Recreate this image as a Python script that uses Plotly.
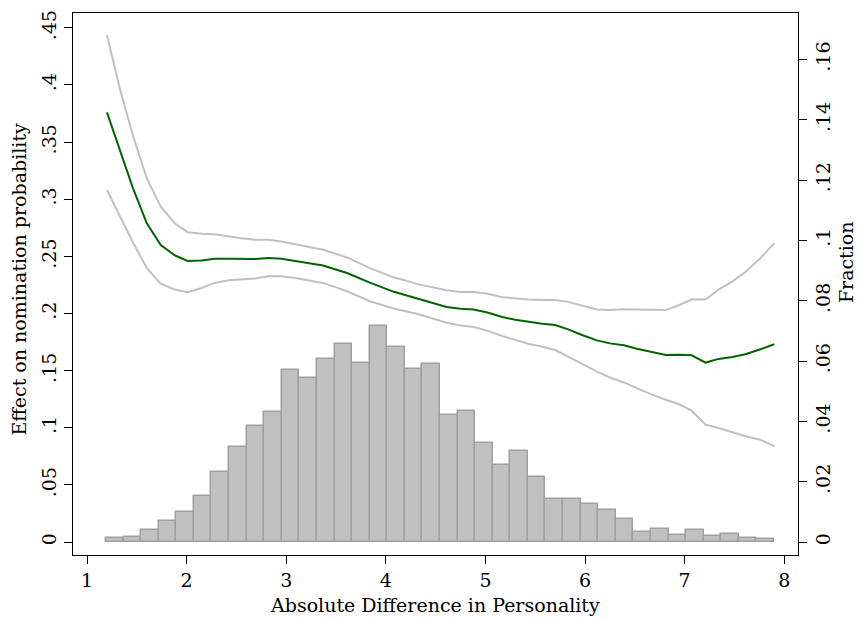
import plotly.graph_objects as go

# ---- data ----
x_pts = [1.20, 1.33, 1.46, 1.60, 1.74, 1.88, 2.01, 2.15, 2.28, 2.42, 2.55, 2.69, 2.82, 2.95, 3.09,
         3.37, 3.61, 3.84, 4.08, 4.34, 4.61, 4.75, 4.88, 5.01, 5.17, 5.30, 5.43, 5.57, 5.70, 5.83,
         5.97, 6.12, 6.25, 6.39, 6.52, 6.66, 6.81, 6.94, 7.07, 7.21, 7.34, 7.48, 7.61, 7.76, 7.90]

effect = [0.376, 0.342, 0.310, 0.279, 0.260, 0.251, 0.246, 0.2465, 0.248, 0.248, 0.248, 0.2477, 0.2485, 0.248, 0.246,
          0.242, 0.2355, 0.227, 0.219, 0.2123, 0.2058, 0.2041, 0.2036, 0.2012, 0.1969, 0.1945, 0.1925, 0.1910, 0.1899, 0.1861,
          0.1812, 0.1765, 0.1739, 0.1722, 0.1692, 0.1664, 0.1638, 0.1640, 0.1635, 0.1571, 0.1603, 0.1620, 0.1644, 0.1687, 0.1731]

upper = [0.4436, 0.3966, 0.3560, 0.3182, 0.2935, 0.2790, 0.2712, 0.2698, 0.2694, 0.2674, 0.2659, 0.2645, 0.2645, 0.2631, 0.2607,
         0.2558, 0.2491, 0.2398, 0.2317, 0.2253, 0.2204, 0.2189, 0.2189, 0.2175, 0.2143, 0.2131, 0.2123, 0.2119, 0.2119, 0.2102,
         0.2073, 0.2036, 0.2032, 0.2038, 0.2036, 0.2032, 0.2030, 0.2073, 0.2123, 0.2123, 0.2210, 0.2282, 0.2363, 0.2485, 0.2616]

lower = [0.3081, 0.2848, 0.2625, 0.2398, 0.2262, 0.2210, 0.2186, 0.2224, 0.2268, 0.2291, 0.2297, 0.2306, 0.2326, 0.2326, 0.2311,
         0.2268, 0.2195, 0.2108, 0.2044, 0.1992, 0.1919, 0.1896, 0.1882, 0.1853, 0.1803, 0.1768, 0.1736, 0.1710, 0.1681, 0.1623,
         0.1557, 0.1492, 0.1440, 0.1397, 0.1348, 0.1295, 0.1246, 0.1208, 0.1150, 0.1028, 0.0999, 0.0961, 0.0926, 0.0895, 0.0839]

hist_start = 1.19
hist_width = 0.1765
hist_frac = [0.0012, 0.0016, 0.0041, 0.0070, 0.0101, 0.0153, 0.0233, 0.0314, 0.0386, 0.0432,
             0.0569, 0.0544, 0.0607, 0.0657, 0.0593, 0.0716, 0.0647, 0.0574, 0.0590, 0.0421,
             0.0433, 0.0330, 0.0255, 0.0301, 0.0217, 0.0144, 0.0144, 0.0125, 0.0106, 0.0075,
             0.0034, 0.0042, 0.0024, 0.0041, 0.0019, 0.0027, 0.0012, 0.0009]

x_ticks = [1, 2, 3, 4, 5, 6, 7, 8]
left_ticks = [0, 0.05, 0.1, 0.15, 0.2, 0.25, 0.3, 0.35, 0.4, 0.45]
left_labels = ["0", ".05", ".1", ".15", ".2", ".25", ".3", ".35", ".4", ".45"]
right_ticks = [0, 0.02, 0.04, 0.06, 0.08, 0.1, 0.12, 0.14, 0.16]
right_labels = ["0", ".02", ".04", ".06", ".08", ".1", ".12", ".14", ".16"]

bin_centers = [hist_start + hist_width * (i + 0.5) for i in range(len(hist_frac))]

FONT = "DejaVu Serif"
FS = 19

fig = go.Figure()
fig.add_trace(go.Bar(x=bin_centers, y=hist_frac, width=hist_width, yaxis="y",
                     marker=dict(color="#c0c0c0", line=dict(color="#a0a0a0", width=1.5)),
                     showlegend=False))
fig.add_trace(go.Scatter(x=x_pts, y=upper, yaxis="y2", mode="lines",
                         line=dict(color="#c0c0c0", width=2), showlegend=False))
fig.add_trace(go.Scatter(x=x_pts, y=lower, yaxis="y2", mode="lines",
                         line=dict(color="#c0c0c0", width=2), showlegend=False))
fig.add_trace(go.Scatter(x=x_pts, y=effect, yaxis="y2", mode="lines",
                         line=dict(color="#006400", width=2), showlegend=False))

axis_common = dict(showgrid=False, zeroline=False, showline=True, linecolor="black", linewidth=1,
                   ticks="outside", ticklen=8, tickcolor="black", tickwidth=1,
                   tickfont=dict(family=FONT, size=FS, color="black"))

fig.update_layout(
    width=859, height=619,
    margin=dict(l=73, r=61, t=10, b=64),
    paper_bgcolor="white", plot_bgcolor="white",
    bargap=0,
    xaxis=dict(range=[0.859, 8.138], tickvals=x_ticks, ticktext=[str(t) for t in x_ticks],
               mirror=True, **axis_common),
    yaxis=dict(range=[-0.0043, 0.1754], side="right", tickvals=right_ticks, ticktext=right_labels,
               tickangle=-90, **axis_common),
    yaxis2=dict(range=[-0.0113, 0.463], side="left", overlaying="y", tickvals=left_ticks,
                ticktext=left_labels, tickangle=-90, **axis_common),
    annotations=[
        dict(text="Absolute Difference in Personality", xref="paper", yref="paper", x=0.4995, y=-0.0917,
             showarrow=False, xanchor="center", yanchor="middle", font=dict(family=FONT, size=FS, color="black")),
        dict(text="Effect on nomination probability", xref="paper", yref="paper", x=-0.0745, y=0.510,
             showarrow=False, textangle=-90, xanchor="center", yanchor="middle",
             font=dict(family=FONT, size=FS, color="black")),
        dict(text="Fraction", xref="paper", yref="paper", x=1.0653, y=0.541,
             showarrow=False, textangle=-90, xanchor="center", yanchor="middle",
             font=dict(family=FONT, size=FS, color="black")),
    ],
)

fig.write_html("out.html")
